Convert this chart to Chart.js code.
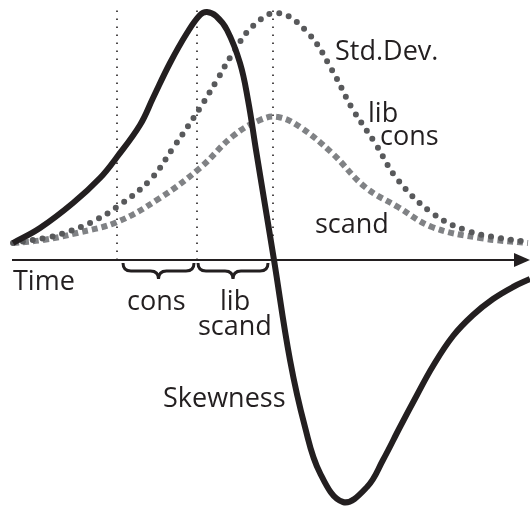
<!DOCTYPE html>
<html>
<head>
<meta charset="utf-8">
<script src="https://cdn.jsdelivr.net/npm/chart.js@4.4.1/dist/chart.umd.min.js"></script>
<style>
  html, body { margin: 0; padding: 0; background: #fff; }
  #wrap { width: 530px; height: 512px; }
</style>
</head>
<body>
<div id="wrap"><canvas id="momentsChart" width="530" height="512"></canvas></div>
<script>
// time positions and values (y = height above the time axis)
const skewTime = [13, 40, 73, 100, 117, 140, 153, 170, 187, 200, 207, 216, 227, 240, 248, 256, 265, 274, 290, 305, 320, 343, 367, 383, 400, 417, 433, 453, 473, 493, 513, 530];
const skewVals = [17, 32, 57, 82, 103, 135, 162, 197, 227, 245, 248, 244, 230, 197, 160, 110, 55, 0, -100, -167, -213, -242, -227, -200, -167, -135, -106, -76, -55, -39, -27, -19];

const sdTime = [13, 50, 67, 90, 117, 150, 173, 200, 217, 233, 253, 278, 308, 332, 352, 375, 398, 432, 465, 500, 528];
const sdVals = [17, 23, 28, 37, 53, 80, 112, 152, 180, 207, 234, 247, 227, 190, 152, 117, 80, 47, 30, 22, 18];

const dashTime = [13, 43, 77, 117, 160, 200, 233, 260, 278, 300, 332, 365, 398, 432, 480, 528];
const dashVals = [17, 20, 27, 38, 62, 92, 124, 140, 143, 133, 107, 73, 53, 33, 22, 17];

const markerTimes = [117, 197, 273];
const markerTop = 255;

// braces under the axis: [start, end]
const braceSpans = [[123, 194], [198, 268]];

const labels = [
  { text: 'Std.Dev.', t: 335, v: 200 },
  { text: 'lib', t: 368, v: 138 },
  { text: 'cons', t: 380, v: 115 },
  { text: 'scand', t: 315, v: 27 },
  { text: 'Time', t: 13, v: -30 },
  { text: 'cons', t: 127, v: -50 },
  { text: 'lib', t: 220, v: -50 },
  { text: 'scand', t: 198, v: -75 },
  { text: 'Skewness', t: 163, v: -147 }
];

const toPts = (xs, ys) => xs.map((x, i) => ({ x: x, y: ys[i] }));

const datasets = [
  {
    label: 'Skewness',
    data: toPts(skewTime, skewVals),
    borderColor: '#231f20',
    borderWidth: 6,
    tension: 0.4
  },
  {
    label: 'Std.Dev. (lib cons)',
    data: toPts(sdTime, sdVals),
    borderColor: '#58595b',
    borderWidth: 6,
    borderDash: [0, 10],
    borderCapStyle: 'round',
    tension: 0.4
  },
  {
    label: 'Std.Dev. (scand)',
    data: toPts(dashTime, dashVals),
    borderColor: '#808285',
    borderWidth: 6,
    borderDash: [6, 4],
    tension: 0.4
  }
];

markerTimes.forEach(t => {
  datasets.push({
    label: 'marker',
    data: [{ x: t, y: 0 }, { x: t, y: markerTop }],
    borderColor: '#231f20',
    borderWidth: 1.6,
    borderDash: [1.6, 6.4],
    order: 5
  });
});

// time axis with arrow, braces and text labels
const annotations = {
  id: 'annotations',
  afterDatasetsDraw(chart) {
    const { ctx, scales: { x, y } } = chart;
    const y0 = y.getPixelForValue(0);
    ctx.save();
    ctx.strokeStyle = '#231f20';
    ctx.fillStyle = '#231f20';
    ctx.lineWidth = 2;
    ctx.beginPath();
    ctx.moveTo(x.getPixelForValue(12), y0);
    ctx.lineTo(x.getPixelForValue(518), y0);
    ctx.stroke();
    ctx.beginPath();
    ctx.moveTo(x.getPixelForValue(530), y0);
    ctx.lineTo(x.getPixelForValue(514), y0 - 7);
    ctx.lineTo(x.getPixelForValue(514), y0 + 7);
    ctx.closePath();
    ctx.fill();

    ctx.lineWidth = 3;
    braceSpans.forEach(([a, b]) => {
      const x1 = x.getPixelForValue(a), x2 = x.getPixelForValue(b);
      const top = y0 + 3, h = 16, q = h / 2, m = (x1 + x2) / 2;
      ctx.beginPath();
      ctx.moveTo(x1, top);
      ctx.quadraticCurveTo(x1, top + q, x1 + q, top + q);
      ctx.lineTo(m - q, top + q);
      ctx.quadraticCurveTo(m, top + q, m, top + h);
      ctx.quadraticCurveTo(m, top + q, m + q, top + q);
      ctx.lineTo(x2 - q, top + q);
      ctx.quadraticCurveTo(x2, top + q, x2, top);
      ctx.stroke();
    });

    ctx.font = '27px "Open Sans", sans-serif';
    ctx.textAlign = 'left';
    ctx.textBaseline = 'alphabetic';
    labels.forEach(l => {
      ctx.fillText(l.text, x.getPixelForValue(l.t), y.getPixelForValue(l.v));
    });
    ctx.restore();
  }
};

const config = {
  type: 'line',
  data: { datasets: datasets },
  options: {
    responsive: false,
    animation: false,
    layout: { padding: 0 },
    elements: { point: { radius: 0 } },
    plugins: {
      legend: { display: false },
      tooltip: { enabled: false }
    },
    scales: {
      x: { type: 'linear', display: false, min: 0, max: 530 },
      y: { type: 'linear', display: false, min: -252, max: 260 }
    }
  },
  plugins: [annotations]
};

const momentsChart = new Chart(document.getElementById('momentsChart').getContext('2d'), config);
</script>
</body>
</html>
